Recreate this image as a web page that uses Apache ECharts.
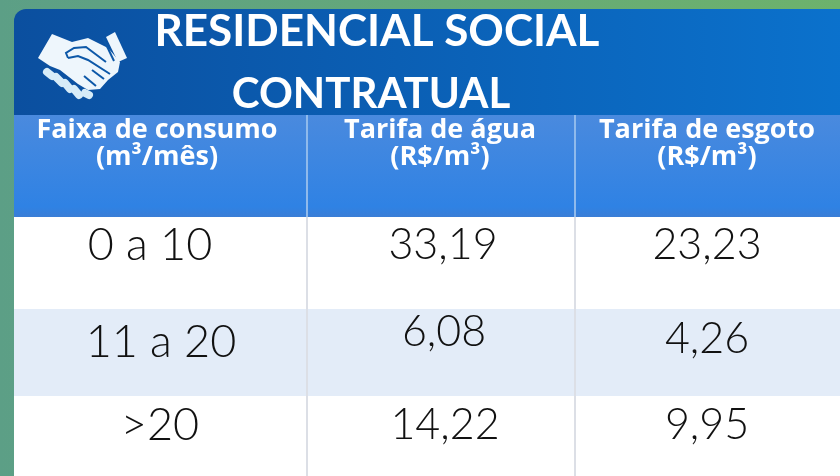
<!DOCTYPE html>
<html>
<head>
<meta charset="utf-8">
<style>
  html, body { margin: 0; padding: 0; background: #64a97b; }
  #chart { width: 840px; height: 476px; }
</style>
<script src="https://cdn.jsdelivr.net/npm/echarts@6/dist/echarts.min.js"></script>
</head>
<body>
<div id="chart"></div>
<script>
// table content
const titleLines = ['RESIDENCIAL SOCIAL', 'CONTRATUAL']
const headers = ['Faixa de consumo\n(m³/mês)', 'Tarifa de água\n(R$/m³)', 'Tarifa de esgoto\n(R$/m³)']
const faixas = ['0 a 10', '11 a 20', '>20']
const tarifaAgua = ['33,19', '6,08', '14,22']
const tarifaEsgoto = ['23,23', '4,26', '9,95']

// table layout, in axis units (1 unit = 1 px)
const colEdges = [14, 307, 575, 840]
const rowEdges = [217, 309, 396, 476]
const rowColors = ['#ffffff', '#e3ecf8', '#ffffff']
const headerTop = 115
const cellCenterX = [[150, 161, 160], [443, 444, 445], [707, 707, 707]]
const cellCenterY = [[245, 342, 425], [245, 332, 425], [245, 339, 425]]
const headerCenterX = [157, 440, 707]

const columns = [faixas, tarifaAgua, tarifaEsgoto]
const bodyFont = 'Lato, "Noto Sans", sans-serif'

const rectBetween = (api, x0, x1, y0, y1) => {
  const a = api.coord([x0, y0])
  const b = api.coord([x1, y1])
  return { x: a[0], y: a[1], width: b[0] - a[0], height: b[1] - a[1] }
}

const handColor = '#eef6fc'
const handLine = '#0d58a8'
const fingers = [
  [[47, 72], [52, 76]],
  [[56, 77], [62, 83]],
  [[65, 83], [70, 89]],
  [[74, 89], [79, 95]],
  [[85, 93], [89, 95]]
]

const chart = echarts.init(document.getElementById('chart'), null, { renderer: 'canvas' })

chart.setOption({
  animation: false,
  backgroundColor: {
    type: 'linear', x: 0, y: 0, x2: 1, y2: 0,
    colorStops: [
      { offset: 0, color: '#5c9f86' },
      { offset: 1, color: '#6db26c' }
    ]
  },
  grid: { left: 0, right: 0, top: 0, bottom: 0 },
  xAxis: { type: 'value', min: 0, max: 840, show: false },
  yAxis: { type: 'value', min: 0, max: 476, inverse: true, show: false },
  graphic: [
    {
      type: 'rect', z: 0,
      shape: { x: 14, y: 9, width: 840, height: 106, r: [12, 12, 0, 0] },
      style: {
        fill: {
          type: 'linear', x: 0, y: 0, x2: 1, y2: 0,
          colorStops: [
            { offset: 0, color: '#0b4f9f' },
            { offset: 1, color: '#0b72cd' }
          ]
        }
      }
    },
    {
      type: 'polygon', z: 5,
      shape: { points: [[38, 58], [52, 34], [72, 42], [88, 38], [108, 48], [120, 62], [118, 72], [108, 80], [100, 89], [88, 90], [78, 84], [60, 70], [50, 66]] },
      style: { fill: handColor }
    },
    {
      type: 'polygon', z: 5,
      shape: { points: [[106, 37], [115, 32], [127, 58], [118, 62]] },
      style: { fill: handColor }
    },
    {
      type: 'polyline', z: 6,
      shape: { points: [[103, 38], [114, 61]] },
      style: { stroke: handLine, lineWidth: 2, fill: 'none' }
    },
    {
      type: 'polyline', z: 6,
      shape: { points: [[68, 58], [66, 53], [74, 48], [86, 47], [106, 62]] },
      style: { stroke: handLine, lineWidth: 2, fill: 'none' }
    },
    {
      type: 'polyline', z: 6,
      shape: { points: [[68, 58], [78, 56], [88, 60], [110, 74]] },
      style: { stroke: handLine, lineWidth: 2, fill: 'none' }
    },
    {
      type: 'polyline', z: 6,
      shape: { points: [[92, 70], [104, 79]] },
      style: { stroke: handLine, lineWidth: 2, fill: 'none' }
    },
    {
      type: 'polyline', z: 6,
      shape: { points: [[84, 76], [96, 86]] },
      style: { stroke: handLine, lineWidth: 2, fill: 'none' }
    },
    ...fingers.map(points => ({
      type: 'polyline', z: 5,
      shape: { points },
      style: { stroke: '#d7ecf8', lineWidth: 8, lineCap: 'round', fill: 'none' }
    })),
    ...titleLines.map((line, i) => ({
      type: 'text', z: 7,
      x: i === 0 ? 377 : 371,
      y: i === 0 ? 32 : 94,
      style: {
        text: line,
        fill: '#ffffff',
        font: (i === 0 ? 'bold 44px ' : 'bold 42px ') + bodyFont,
        align: 'center',
        verticalAlign: 'middle'
      }
    }))
  ],
  series: [
    {
      // header cells
      type: 'custom',
      coordinateSystem: 'cartesian2d',
      z: 2,
      silent: true,
      data: headers.map((h, i) => [i]),
      renderItem: (params, api) => {
        const i = api.value(0)
        const box = rectBetween(api, colEdges[i], colEdges[i + 1], headerTop, rowEdges[0])
        const center = api.coord([headerCenterX[i], 144])
        return {
          type: 'group',
          children: [
            {
              type: 'rect',
              shape: box,
              style: {
                fill: {
                  type: 'linear', x: 0, y: 0, x2: 0, y2: 1,
                  colorStops: [
                    { offset: 0, color: '#4a8ade' },
                    { offset: 0.9, color: '#2f82e4' },
                    { offset: 1, color: '#3a7dd6' }
                  ]
                }
              }
            },
            {
              type: 'text',
              x: center[0],
              y: center[1],
              style: {
                text: headers[i],
                fill: '#ffffff',
                font: 'bold 27px "Open Sans", ' + bodyFont,
                lineHeight: 27,
                align: 'center',
                verticalAlign: 'middle'
              }
            }
          ]
        }
      }
    },
    {
      // body cells, one item per column and row
      type: 'custom',
      coordinateSystem: 'cartesian2d',
      z: 2,
      silent: true,
      data: columns.flatMap((col, c) => col.map((v, r) => [c, r])),
      renderItem: (params, api) => {
        const c = api.value(0)
        const r = api.value(1)
        const box = rectBetween(api, colEdges[c], colEdges[c + 1], rowEdges[r], rowEdges[r + 1])
        const center = api.coord([cellCenterX[c][r], cellCenterY[c][r]])
        return {
          type: 'group',
          children: [
            { type: 'rect', shape: box, style: { fill: rowColors[r] } },
            {
              type: 'text',
              x: center[0],
              y: center[1],
              style: {
                text: columns[c][r],
                fill: '#111111',
                font: '300 ' + (c === 0 ? 45 : 43) + 'px ' + bodyFont,
                align: 'center',
                verticalAlign: 'middle'
              }
            }
          ]
        }
      }
    },
    {
      // column dividers
      type: 'custom',
      coordinateSystem: 'cartesian2d',
      z: 3,
      silent: true,
      data: [1, 2].map(i => [i]),
      renderItem: (params, api) => {
        const x = colEdges[api.value(0)]
        const top = api.coord([x, headerTop])
        const mid = api.coord([x, rowEdges[0]])
        const bottom = api.coord([x, 476])
        return {
          type: 'group',
          children: [
            {
              type: 'line',
              shape: { x1: top[0], y1: top[1], x2: mid[0], y2: mid[1] },
              style: { stroke: '#8fbaec', lineWidth: 2 }
            },
            {
              type: 'line',
              shape: { x1: mid[0], y1: mid[1], x2: bottom[0], y2: bottom[1] },
              style: { stroke: '#dcdfe6', lineWidth: 2 }
            }
          ]
        }
      }
    }
  ]
})

window.addEventListener('resize', () => chart.resize())
</script>
</body>
</html>
